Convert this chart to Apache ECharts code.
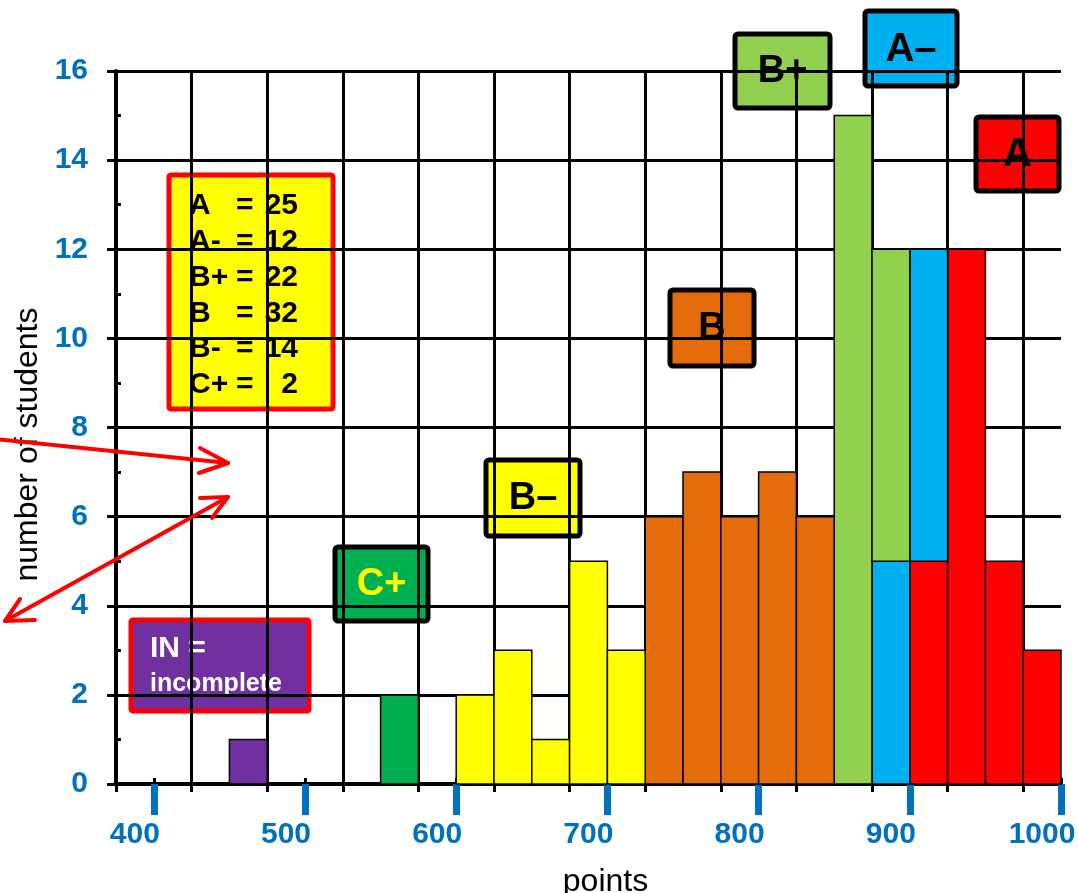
<!DOCTYPE html>
<html>
<head>
<meta charset="utf-8">
<title>points histogram</title>
<script src="https://cdn.jsdelivr.net/npm/echarts@6/dist/echarts.min.js"></script>
<style>
  html, body { margin: 0; padding: 0; background: #fff; }
  #chart { width: 1078px; height: 893px; }
</style>
</head>
<body>
<div id="chart"></div>
<script>
// bins are 25 points wide, value = left edge of the bin
const binWidth = 25;

const aBins = [900, 925, 950, 975];
const aCounts = [5, 12, 5, 3];
const aMinusBins = [875, 900];
const aMinusCounts = [5, 7];
const bPlusBins = [850, 875];
const bPlusCounts = [15, 7];
const bBins = [725, 750, 775, 800, 825];
const bCounts = [6, 7, 6, 7, 6];
const bMinusBins = [600, 625, 650, 675, 700];
const bMinusCounts = [2, 3, 1, 5, 3];
const cPlusBins = [550];
const cPlusCounts = [2];
const inBins = [450];
const inCounts = [1];

const xTickValues = [400, 500, 600, 700, 800, 900, 1000];
const yMinorTicks = [1, 3, 5, 7, 9, 11, 13, 15];

const BLUE = '#0070c0';
const FONT = '"Liberation Sans", Arial, sans-serif';

// stacking order: A first, then A-, then B+ (matches the picture)
const grades = [
  { name: 'A', bins: aBins, counts: aCounts, color: '#ff0000' },
  { name: 'A-', bins: aMinusBins, counts: aMinusCounts, color: '#00b0f0' },
  { name: 'B+', bins: bPlusBins, counts: bPlusCounts, color: '#92d050' },
  { name: 'B', bins: bBins, counts: bCounts, color: '#e46c0a' },
  { name: 'B-', bins: bMinusBins, counts: bMinusCounts, color: '#ffff00' },
  { name: 'C+', bins: cPlusBins, counts: cPlusCounts, color: '#00b050' },
  { name: 'IN', bins: inBins, counts: inCounts, color: '#7030a0' }
];

const stackBase = {};
const series = grades.map(g => {
  const data = g.bins.map((b, i) => {
    const base = stackBase[b] || 0;
    stackBase[b] = base + g.counts[i];
    return [b, b + binWidth, base, base + g.counts[i]];
  });
  return {
    name: g.name,
    type: 'custom',
    xAxisIndex: 0,
    yAxisIndex: 0,
    encode: { x: [0, 1], y: [2, 3] },
    data: data,
    z: 3,
    renderItem: function (params, api) {
      const p0 = api.coord([api.value(0), api.value(3)]);
      const p1 = api.coord([api.value(1), api.value(2)]);
      return {
        type: 'rect',
        shape: { x: p0[0], y: p0[1], width: p1[0] - p0[0], height: p1[1] - p0[1] },
        style: { fill: g.color, stroke: '#000', lineWidth: 1.5 }
      };
    }
  };
});

function txt(x, y, text, size, color, align) {
  return {
    type: 'text', x: x, y: y,
    style: { text: text, fill: color, fontFamily: FONT, fontWeight: 'bold', fontSize: size,
             align: align || 'left', verticalAlign: 'middle' }
  };
}

// labelled boxes over the bars
function gradeBox(x, y, w, h, fill, text, textColor, fontSize) {
  return {
    type: 'group',
    z: 20,
    children: [
      { type: 'rect', shape: { x: x, y: y, width: w, height: h, r: 3 },
        style: { fill: fill, stroke: '#000', lineWidth: 5 } },
      txt(x + w / 2, y + h / 2 + 1, text, fontSize, textColor, 'center')
    ]
  };
}

function arrowLine(points) {
  return { type: 'polyline', z: 25, shape: { points: points },
           style: { stroke: '#ff0000', lineWidth: 4, fill: null, lineCap: 'round', lineJoin: 'round' } };
}

const legendLines = grades.slice(0, 6).map(g => ({
  label: g.name,
  total: g.counts.reduce((s, v) => s + v, 0)
}));

const legendChildren = [
  { type: 'rect', shape: { x: 169, y: 175, width: 164, height: 234, r: 2 },
    style: { fill: '#ffff00', stroke: '#ff0000', lineWidth: 5 } }
];
legendLines.forEach((l, i) => {
  const cy = 206 + i * 35.8;
  legendChildren.push(
    txt(189, cy, l.label, 30, '#000'),
    txt(236, cy, '=', 30, '#000'),
    txt(298, cy, String(l.total), 30, '#000', 'right')
  );
});

// vertical grid at 375, 425 ... 975 only, nothing at the 1000 edge
const gridColors = [];
for (let i = 0; i < 13; i++) gridColors.push('#000');
gridColors.push('rgba(0,0,0,0)');

const chart = echarts.init(document.getElementById('chart'), null, { renderer: 'canvas' });

const option = {
  animation: false,
  backgroundColor: '#fff',
  grid: { left: 116, top: 71, width: 945, height: 713, containLabel: false, outerBoundsMode: 'none' },
  xAxis: [
    {
      type: 'value', position: 'bottom', min: 375, max: 1000, interval: 50,
      name: 'points', nameLocation: 'middle', nameGap: 82,
      nameTextStyle: { fontFamily: FONT, fontSize: 32, color: '#000', padding: [0, 0, 0, 34] },
      axisLine: { show: true, onZero: false, lineStyle: { color: '#000', width: 4 } },
      axisTick: { show: true, length: 8, lineStyle: { color: '#000', width: 3 } },
      axisLabel: { show: false },
      splitLine: { show: true, lineStyle: { color: gridColors, width: 3 } }
    },
    {
      type: 'value', position: 'bottom', min: 375, max: 1000,
      axisLine: { show: false },
      axisTick: { show: true, customValues: xTickValues, length: 31, lineStyle: { color: BLUE, width: 7 } },
      axisLabel: { show: true, customValues: xTickValues, margin: 36, color: BLUE,
                   formatter: v => String(v),
                   fontFamily: FONT, fontWeight: 'bold', fontSize: 30, padding: [0, 38, 0, 0] },
      splitLine: { show: false }
    },
    {
      type: 'value', position: 'bottom', min: 375, max: 1000,
      axisLine: { show: false },
      axisTick: { show: true, inside: true, customValues: xTickValues, length: 6, lineStyle: { color: '#000', width: 3 } },
      axisLabel: { show: false },
      splitLine: { show: false }
    }
  ],
  yAxis: [
    {
      type: 'value', position: 'left', min: 0, max: 16, interval: 2,
      name: 'number of students', nameLocation: 'middle', nameGap: 62,
      nameTextStyle: { fontFamily: FONT, fontSize: 32, color: '#000', padding: [0, 34, 0, 0] },
      axisLine: { show: true, onZero: false, lineStyle: { color: '#000', width: 4 } },
      axisTick: { show: true, length: 9, lineStyle: { color: '#000', width: 3 } },
      axisLabel: { color: BLUE, fontFamily: FONT, fontWeight: 'bold', fontSize: 30, margin: 28,
                   padding: [4, 0, 0, 0] },
      splitLine: { show: true, lineStyle: { color: '#000', width: 3 } }
    },
    {
      type: 'value', position: 'left', min: 0, max: 16,
      axisLine: { show: false },
      axisTick: { show: true, inside: true, customValues: yMinorTicks, length: 5, lineStyle: { color: '#000', width: 3 } },
      axisLabel: { show: false },
      splitLine: { show: false }
    }
  ],
  series: series,
  graphic: [
    gradeBox(735, 34, 95, 74, '#92d050', 'B+', '#000', 38),
    gradeBox(865, 11, 92, 75, '#00b0f0', 'A\u2013', '#000', 40),
    gradeBox(976, 117, 83, 74, '#ff0000', 'A', '#000', 40),
    gradeBox(670, 290, 84, 76, '#e46c0a', 'B', '#000', 38),
    gradeBox(486, 460, 94, 76, '#ffff00', 'B\u2013', '#000', 38),
    gradeBox(335, 547, 93, 74, '#00b050', 'C+', '#ffff00', 38),
    {
      type: 'group', z: 20,
      children: [
        { type: 'rect', shape: { x: 131, y: 620, width: 178, height: 91, r: 2 },
          style: { fill: '#7030a0', stroke: '#ff0000', lineWidth: 5 } },
        txt(150, 649, 'IN =', 30, '#fff'),
        txt(150, 684, 'incomplete', 25, '#fff')
      ]
    },
    { type: 'group', z: 20, children: legendChildren },
    arrowLine([[-5, 439], [228, 463]]),
    arrowLine([[200, 448], [228, 463], [199, 473]]),
    arrowLine([[228, 497], [5, 621]]),
    arrowLine([[200, 498], [228, 497], [212, 518]]),
    arrowLine([[20, 599], [5, 621], [35, 620]])
  ]
};

chart.setOption(option);
</script>
</body>
</html>
